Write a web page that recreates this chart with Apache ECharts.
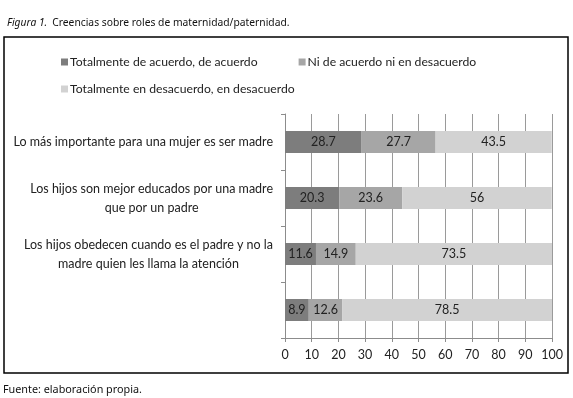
<!DOCTYPE html>
<html>
<head>
<meta charset="utf-8">
<script src="https://cdn.jsdelivr.net/npm/echarts@6/dist/echarts.min.js"></script>
<style>
  html, body { margin: 0; padding: 0; background: #fff; }
  #chart { width: 573px; height: 398px; }
</style>
</head>
<body>
<div id="chart"></div>
<script>
var categories = [
  'Lo más importante para una mujer es ser madre',
  'Los hijos son mejor educados por una madre\nque por un padre',
  'Los hijos obedecen cuando es el padre y no la\nmadre quien les llama la atención',
  ''
];
var seriesNames = [
  'Totalmente de acuerdo, de acuerdo',
  'Ni de acuerdo ni en desacuerdo',
  'Totalmente en desacuerdo, en desacuerdo'
];
var acuerdo = [28.7, 20.3, 11.6, 8.9];
var neutral = [27.7, 23.6, 14.9, 12.6];
var desacuerdo = [43.5, 56, 73.5, 78.5];
var xTicks = [0, 10, 20, 30, 40, 50, 60, 70, 80, 90, 100];

var chartFont = 'Lato';
var colors = ['#7d7d7d', '#a6a6a6', '#d2d2d2'];

var myChart = echarts.init(document.getElementById('chart'));

function makeSeries(name, data, color) {
  return {
    name: name,
    type: 'bar',
    stack: 'total',
    barWidth: 22,
    data: data,
    itemStyle: { color: color },
    label: {
      show: true,
      position: 'inside',
      color: '#222',
      fontFamily: chartFont,
      fontSize: 12.5
    }
  };
}

var legendText = { fontFamily: chartFont, fontSize: 12.2, color: '#222', padding: [0, 0, 0, -3] };

var option = {
  backgroundColor: '#fff',
  animation: false,
  title: {
    left: 2,
    top: 9,
    text: '{i|Figura 1.} {n|Creencias sobre roles de maternidad/paternidad.}',
    textStyle: {
      fontWeight: 'normal',
      rich: {
        i: { fontFamily: 'Noto Sans', fontStyle: 'italic', fontWeight: 'normal', fontSize: 10.3, color: '#111' },
        n: { fontFamily: 'Noto Sans', fontWeight: 'normal', fontSize: 10.3, color: '#111' }
      }
    }
  },
  legend: [
    {
      left: 56,
      top: 51,
      data: [seriesNames[0], seriesNames[1]],
      itemWidth: 7,
      itemHeight: 7,
      itemGap: 41,
      icon: 'rect',
      textStyle: legendText
    },
    {
      left: 56,
      top: 78,
      data: [seriesNames[2]],
      itemWidth: 7,
      itemHeight: 7,
      icon: 'rect',
      textStyle: legendText
    }
  ],
  grid: {
    left: 285,
    right: 21,
    top: 114,
    bottom: 60
  },
  xAxis: {
    type: 'value',
    min: 0,
    max: 100,
    interval: 10,
    axisLine: { show: true, lineStyle: { color: '#8c8c8c' } },
    axisTick: { show: true, length: 4, lineStyle: { color: '#8c8c8c' } },
    axisLabel: {
      color: '#222',
      fontFamily: chartFont,
      fontSize: 12.5,
      margin: 10,
      formatter: function (v) { return xTicks.indexOf(v) >= 0 ? String(v) : ''; }
    },
    splitLine: { show: true, lineStyle: { color: '#9a9a9a', width: 1 } }
  },
  yAxis: {
    type: 'category',
    inverse: true,
    data: categories,
    axisLine: { show: true, lineStyle: { color: '#8c8c8c' } },
    axisTick: { show: true, length: 4, lineStyle: { color: '#8c8c8c' } },
    axisLabel: {
      margin: 12,
      color: '#222',
      fontFamily: chartFont,
      fontSize: 12.5,
      lineHeight: 19,
      formatter: function (v) {
        return v.split('\n').map(function (l) { return '{c|' + l + '}'; }).join('\n');
      },
      rich: {
        c: { align: 'center', fontFamily: chartFont, fontSize: 12.5, lineHeight: 19, color: '#222' }
      }
    }
  },
  graphic: [
    {
      type: 'rect',
      shape: { x: 4, y: 37, width: 564, height: 336 },
      style: { fill: 'none', stroke: '#000', lineWidth: 1.5 },
      silent: true
    },
    {
      type: 'text',
      left: 3,
      top: 384,
      style: { text: 'Fuente: elaboración propia.', fontFamily: 'Noto Sans', fontSize: 10.8, fill: '#111' }
    }
  ],
  series: [
    makeSeries(seriesNames[0], acuerdo, colors[0]),
    makeSeries(seriesNames[1], neutral, colors[1]),
    makeSeries(seriesNames[2], desacuerdo, colors[2])
  ]
};

option && myChart.setOption(option);
</script>
</body>
</html>
